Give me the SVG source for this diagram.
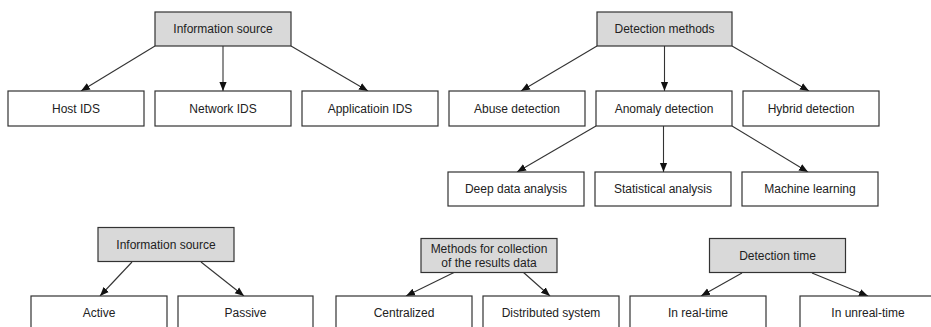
<svg xmlns="http://www.w3.org/2000/svg" width="931" height="327" viewBox="0 0 931 327">
<style>
.box{fill:#fff;stroke:#333;stroke-width:1.2}
.head{fill:#d9d9d9;stroke:#333;stroke-width:1.2}
text{font-family:"Liberation Sans",Arial,sans-serif;font-size:12px;fill:#222;text-anchor:middle}
.edge{stroke:#333;stroke-width:1.1;fill:none;marker-end:url(#ah)}
</style>
<defs>
<marker id="ah" viewBox="0 0 10 10" refX="10" refY="5" markerWidth="9" markerHeight="9" markerUnits="userSpaceOnUse" orient="auto">
<path d="M0,1 L10,5 L0,9 Z" fill="#111"/>
</marker>
</defs>
<rect width="931" height="327" fill="#fff"/>
<g id="connectors">
<line class="edge" x1="155" y1="46" x2="81" y2="91"/>
<line class="edge" x1="223" y1="46" x2="223" y2="91"/>
<line class="edge" x1="291" y1="46" x2="368" y2="91"/>
<line class="edge" x1="597" y1="46" x2="521" y2="91"/>
<line class="edge" x1="664.5" y1="46" x2="664.5" y2="91"/>
<line class="edge" x1="732" y1="46" x2="809" y2="91"/>
<line class="edge" x1="596" y1="126" x2="517" y2="172"/>
<line class="edge" x1="663.5" y1="126" x2="663.5" y2="172"/>
<line class="edge" x1="732" y1="126" x2="808" y2="172"/>
<line class="edge" x1="132" y1="262" x2="100" y2="296"/>
<line class="edge" x1="201" y1="262" x2="244" y2="296"/>
<line class="edge" x1="455" y1="272" x2="406" y2="296"/>
<line class="edge" x1="523" y1="272" x2="550" y2="296"/>
<line class="edge" x1="742" y1="273" x2="701" y2="296"/>
<line class="edge" x1="812" y1="273" x2="868" y2="296"/>
</g>
<g id="info-source-1"><rect class="head" x="155" y="12" width="136" height="34"/><text x="223" y="33">Information source</text></g>
<g id="host-ids"><rect class="box" x="8" y="91" width="136" height="35"/><text x="76" y="112.5">Host IDS</text></g>
<g id="network-ids"><rect class="box" x="155" y="91" width="136" height="35"/><text x="223" y="112.5">Network IDS</text></g>
<g id="application-ids"><rect class="box" x="302" y="91" width="136" height="35"/><text x="370" y="112.5">Applicatioin IDS</text></g>
<g id="detection-methods"><rect class="head" x="597" y="12" width="135" height="34"/><text x="664.5" y="33">Detection methods</text></g>
<g id="abuse-detection"><rect class="box" x="449" y="91" width="136" height="35"/><text x="517" y="112.5">Abuse detection</text></g>
<g id="anomaly-detection"><rect class="box" x="596" y="91" width="136" height="35"/><text x="664" y="112.5">Anomaly detection</text></g>
<g id="hybrid-detection"><rect class="box" x="743" y="91" width="136" height="35"/><text x="811" y="112.5">Hybrid detection</text></g>
<g id="deep-data-analysis"><rect class="box" x="448" y="172" width="136" height="34"/><text x="516" y="193">Deep data analysis</text></g>
<g id="statistical-analysis"><rect class="box" x="595" y="172" width="136" height="34"/><text x="663" y="193">Statistical analysis</text></g>
<g id="machine-learning"><rect class="box" x="742" y="172" width="136" height="34"/><text x="810" y="193">Machine learning</text></g>
<g id="info-source-2"><rect class="head" x="98" y="227.5" width="136" height="34"/><text x="166" y="248.5">Information source</text></g>
<g id="active"><rect class="box" x="31" y="296" width="136" height="40"/><text x="99" y="317">Active</text></g>
<g id="passive"><rect class="box" x="178" y="296" width="135" height="40"/><text x="245.5" y="317">Passive</text></g>
<g id="methods-collection"><rect class="head" x="421" y="238.5" width="136" height="34"/><text x="489" y="252.5">Methods for collection</text><text x="489" y="267">of the results data</text></g>
<g id="centralized"><rect class="box" x="336" y="296" width="136" height="40"/><text x="404" y="317">Centralized</text></g>
<g id="distributed-system"><rect class="box" x="483" y="296" width="136" height="40"/><text x="551" y="317">Distributed system</text></g>
<g id="detection-time"><rect class="head" x="709.5" y="238.5" width="136" height="34"/><text x="777.5" y="259.5">Detection time</text></g>
<g id="in-real-time"><rect class="box" x="630" y="296" width="136" height="40"/><text x="698" y="317">In real-time</text></g>
<g id="in-unreal-time"><rect class="box" x="800" y="296" width="136" height="40"/><text x="868" y="317">In unreal-time</text></g>
</svg>
